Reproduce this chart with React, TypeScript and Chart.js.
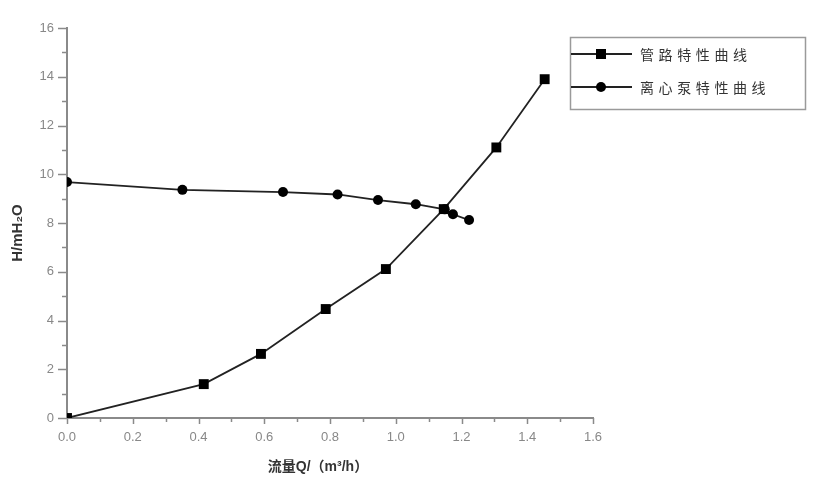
import React, { useEffect, useRef } from "react";
import { Chart, registerables } from "chart.js";

Chart.register(...registerables);

// ---- data ----
const pipeLabel = "管路特性曲线";
const pumpLabel = "离心泵特性曲线";
const pipeQ = [0, 0.416, 0.59, 0.787, 0.97, 1.146, 1.306, 1.453];
const pipeH = [0, 1.39, 2.63, 4.47, 6.11, 8.57, 11.1, 13.9];
const pumpQ = [0, 0.351, 0.657, 0.823, 0.946, 1.061, 1.149, 1.174, 1.223];
const pumpH = [9.68, 9.36, 9.27, 9.17, 8.94, 8.77, 8.56, 8.36, 8.12];
const xTitle = "流量Q/（m³/h）";
const yTitle = "H/mH₂O";
const xMin = 0, xMax = 1.6, xStep = 0.2, xMinorStep = 0.1;
const yMin = 0, yMax = 16, yStep = 2, yMinorStep = 1;

const AXIS = "#8a8a8a";
const LINE = "#222";
const TICKTXT = "#888";

const extras = {
  id: "extras",
  afterDraw(chart: any) {
    const { ctx, chartArea } = chart;
    const xs = chart.scales.x;
    const ys = chart.scales.y;
    ctx.save();
    ctx.strokeStyle = AXIS;
    ctx.lineWidth = 1.5;
    const nx = Math.round((xMax - xMin) / xMinorStep);
    for (let i = 0; i <= nx; i++) {
      const v = xMin + i * xMinorStep;
      const px = Math.round(xs.getPixelForValue(v)) + 0.5;
      const major = i % Math.round(xStep / xMinorStep) === 0;
      ctx.beginPath();
      ctx.moveTo(px, chartArea.bottom);
      ctx.lineTo(px, chartArea.bottom + (major ? 6 : 4));
      ctx.stroke();
    }
    const ny = Math.round((yMax - yMin) / yMinorStep);
    for (let i = 0; i <= ny; i++) {
      const v = yMin + i * yMinorStep;
      const py = Math.round(ys.getPixelForValue(v)) + 0.5;
      const major = i % Math.round(yStep / yMinorStep) === 0;
      ctx.beginPath();
      ctx.moveTo(chartArea.left, py);
      ctx.lineTo(chartArea.left - (major ? 9 : 5), py);
      ctx.stroke();
    }
    // axis titles
    ctx.fillStyle = "#333";
    ctx.font = 'bold 14px "Liberation Sans", "Noto Sans CJK SC", sans-serif';
    ctx.textAlign = "center";
    ctx.textBaseline = "middle";
    ctx.fillText(xTitle, 318, 467);
    ctx.save();
    ctx.translate(18, 233);
    ctx.rotate(-Math.PI / 2);
    ctx.font = 'bold 15px "Liberation Sans", sans-serif';
    ctx.fillText(yTitle, 0, 0);
    ctx.restore();

    // legend
    const bx = 570.5, by = 37.5, bw = 235, bh = 72;
    ctx.strokeStyle = "#9a9a9a";
    ctx.lineWidth = 1.5;
    ctx.strokeRect(bx, by, bw, bh);
    const items = [
      { label: pipeLabel, style: "rect", y: 54 },
      { label: pumpLabel, style: "circle", y: 87 },
    ];
    ctx.textAlign = "left";
    ctx.font = '14px "Noto Sans CJK SC", sans-serif';
    (ctx as any).letterSpacing = "4.6px";
    for (const it of items) {
      ctx.strokeStyle = LINE;
      ctx.lineWidth = 1.8;
      ctx.beginPath();
      ctx.moveTo(571, it.y);
      ctx.lineTo(632, it.y);
      ctx.stroke();
      ctx.fillStyle = "#000";
      if (it.style === "rect") {
        ctx.fillRect(601 - 5, it.y - 5, 10, 10);
      } else {
        ctx.beginPath();
        ctx.arc(601, it.y, 5, 0, Math.PI * 2);
        ctx.fill();
      }
      ctx.fillStyle = "#333";
      ctx.fillText(it.label, 640, it.y + 1);
    }
    (ctx as any).letterSpacing = "0px";
    ctx.restore();
  },
};

export default function App() {
  const ref = useRef<HTMLCanvasElement | null>(null);
  useEffect(() => {
    const canvas = ref.current;
    if (!canvas) return;
    const chart = new Chart(canvas, {
      type: "scatter",
      data: {
        datasets: [
          {
            label: pipeLabel,
            data: pipeQ.map((q, i) => ({ x: q, y: pipeH[i] })),
            showLine: true,
            borderColor: LINE,
            borderWidth: 1.8,
            backgroundColor: "#000",
            pointBackgroundColor: "#000",
            pointBorderColor: "#000",
            pointStyle: "rect",
            pointRadius: 7,
            pointBorderWidth: 0,
          },
          {
            label: pumpLabel,
            data: pumpQ.map((q, i) => ({ x: q, y: pumpH[i] })),
            showLine: true,
            borderColor: LINE,
            borderWidth: 1.8,
            backgroundColor: "#000",
            pointBackgroundColor: "#000",
            pointBorderColor: "#000",
            pointStyle: "circle",
            pointRadius: 5,
            pointBorderWidth: 0,
          },
        ],
      },
      options: {
        animation: false,
        responsive: false,
        layout: { padding: { left: 0, top: 28, right: 221, bottom: 0 } },
        plugins: { legend: { display: false }, tooltip: { enabled: false } },
        scales: {
          x: {
            type: "linear",
            min: xMin,
            max: xMax,
            afterFit: (s: any) => { s.height = 70; },
            grid: { drawOnChartArea: false, drawTicks: false },
            border: { display: true, color: AXIS, width: 2 },
            ticks: {
              stepSize: xStep,
              padding: 12,
              color: TICKTXT,
              font: { family: '"Liberation Sans", sans-serif', size: 13 },
              callback: (v: any) => Number(v).toFixed(1),
            },
          },
          y: {
            type: "linear",
            min: yMin,
            max: yMax,
            afterFit: (s: any) => { s.width = 67; },
            grid: { drawOnChartArea: false, drawTicks: false },
            border: { display: true, color: AXIS, width: 2 },
            ticks: {
              stepSize: yStep,
              padding: 13,
              color: TICKTXT,
              font: { family: '"Liberation Sans", sans-serif', size: 13 },
              callback: (v: any) => String(Math.round(Number(v))),
            },
          },
        },
      },
      plugins: [extras],
    });
    return () => chart.destroy();
  }, []);
  return (
    <div style={{ position: "absolute", left: 0, top: 0, width: 814, height: 488, background: "#fff" }}>
      <canvas ref={ref} width={814} height={488} style={{ display: "block" }} />
    </div>
  );
}
